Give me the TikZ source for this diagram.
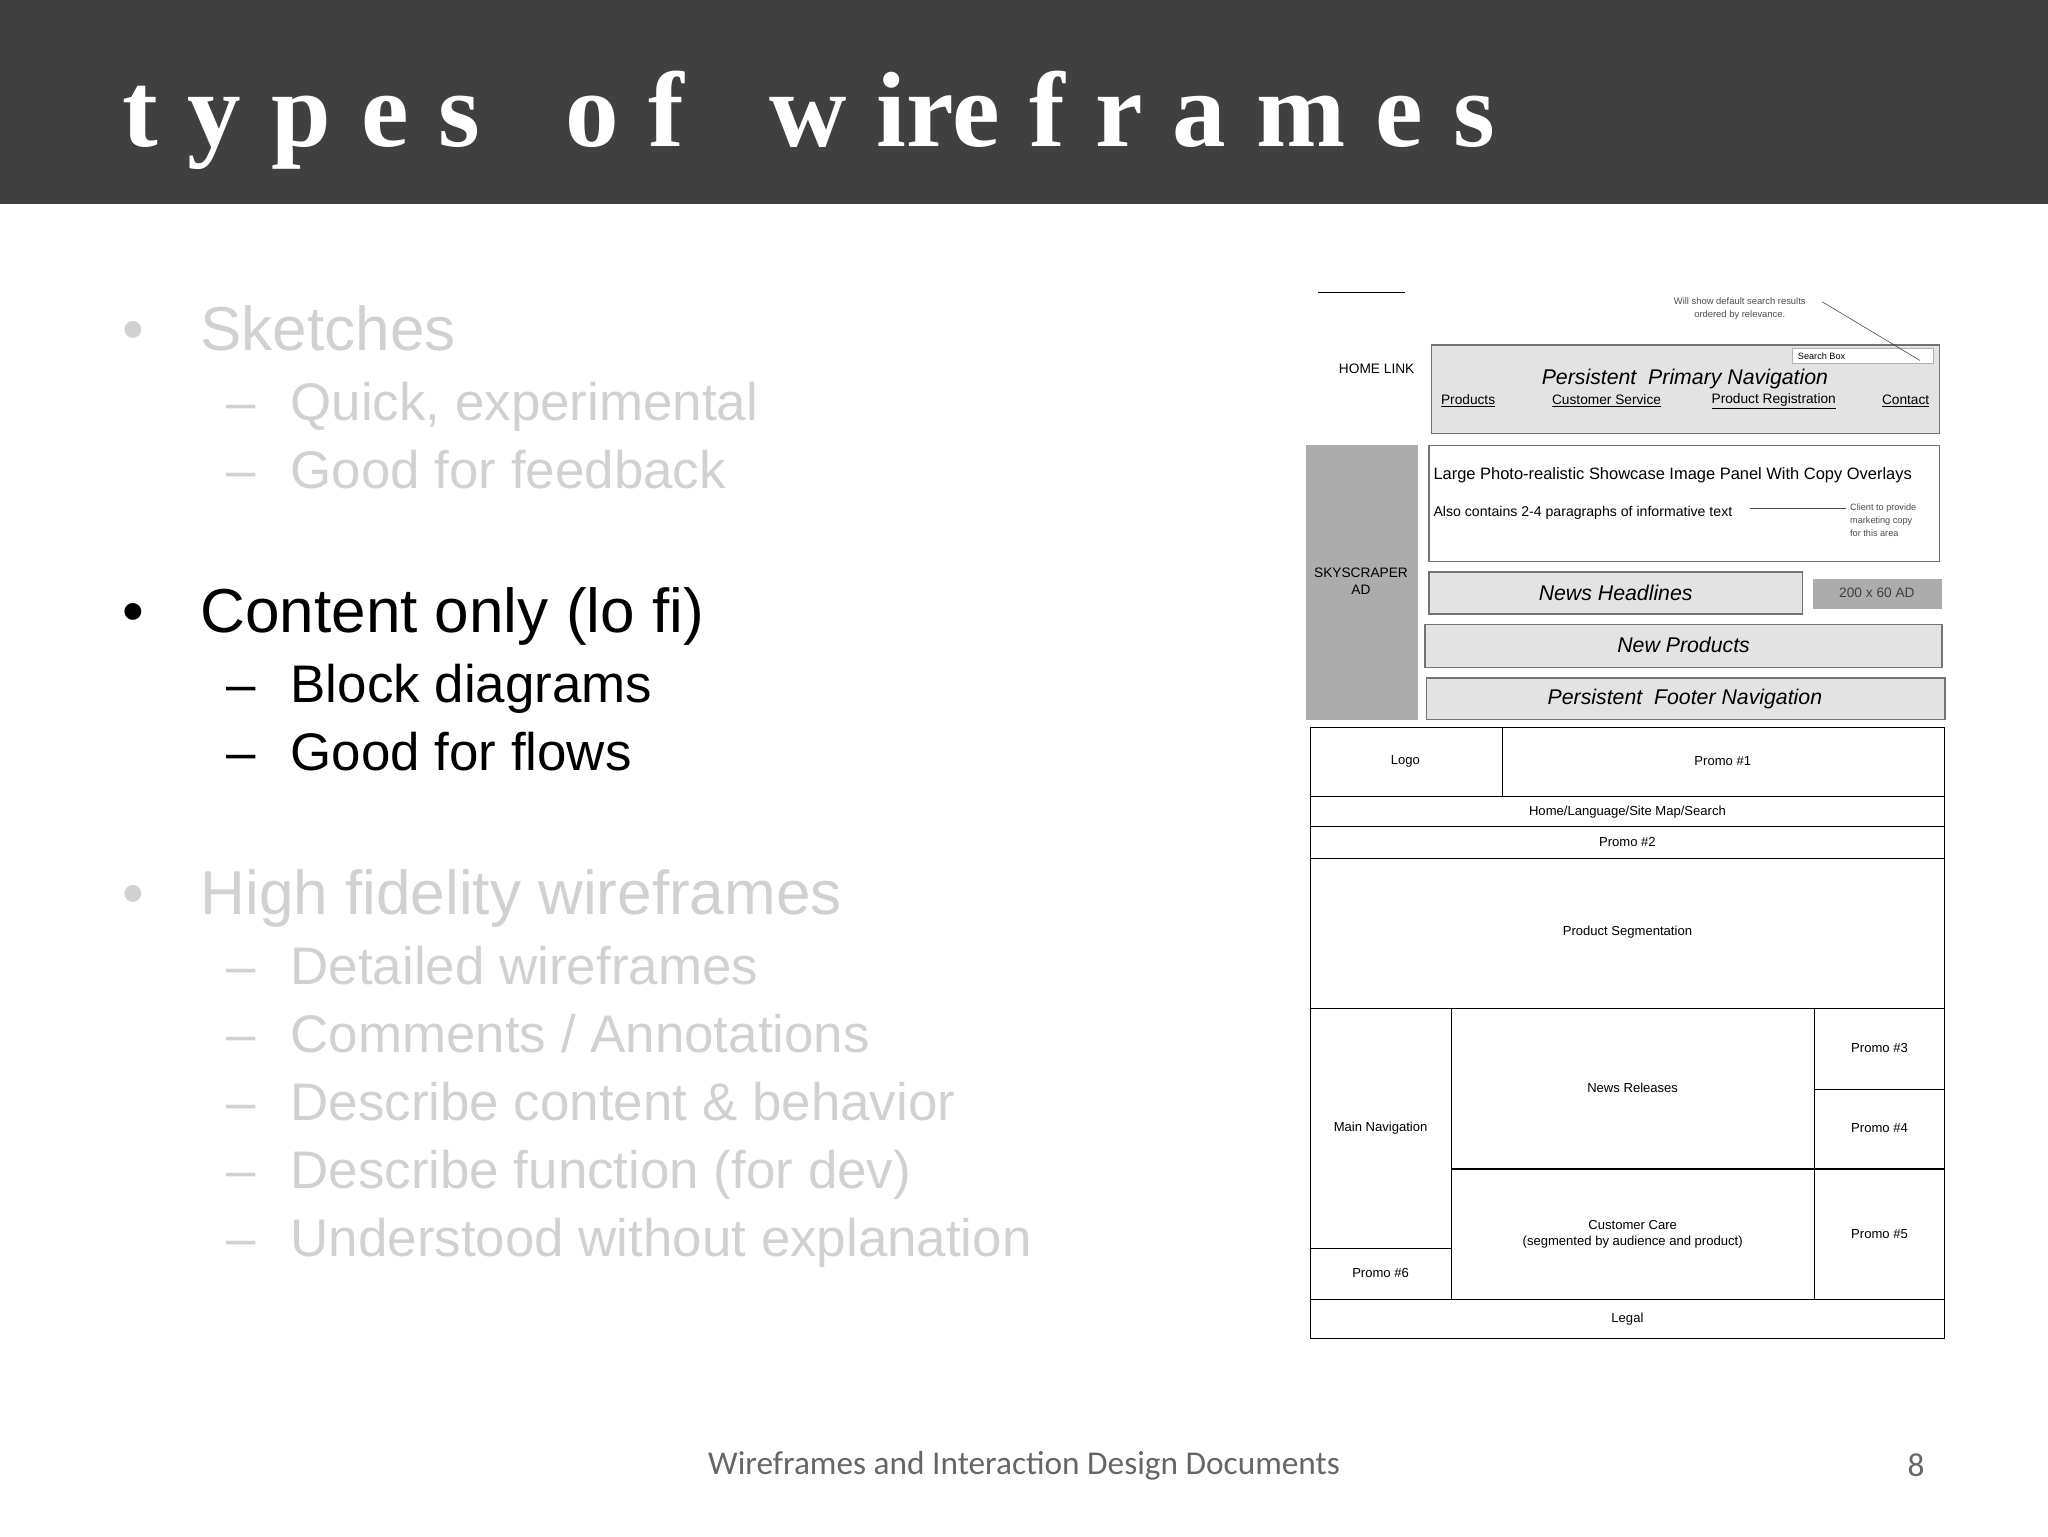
\documentclass[tikz,border=0pt]{standalone}
\usepackage{fontspec}
\setmainfont{Liberation Sans}
\newfontfamily\titlefont{Liberation Serif}
\newfontfamily\footfont{Carlito}
\newcommand\ttlg{\hspace{23pt}}
\newcommand\ttwg{\hspace{65pt}}
\begin{document}
\begin{tikzpicture}[x=1pt,y=-1pt,
  lbl/.style={font=\fontsize{10}{12}\selectfont,align=center},
  box/.style={draw=black,line width=0.8pt},
  gbox/.style={draw=gray!90!black,line width=1.2pt,fill=gray!22},
  faded/.style={text=black!18},
  bul/.style={anchor=base west,font=\fontsize{47.5}{50}\selectfont},
  sub/.style={anchor=base west,font=\fontsize{40.5}{44}\selectfont}]
\useasboundingbox (0,0) rectangle (1568,1176);
\fill[black!75] (0,0) rectangle (1568,156);
\node[anchor=base west,text=white,font=\titlefont\bfseries\fontsize{82}{90}\selectfont] (title) at (90,112) {t\ttlg y\ttlg p\ttlg e\ttlg s\ttwg o\ttlg f\ttwg w\ttlg ire\ttlg f\ttlg r\ttlg a\ttlg m\ttlg e\ttlg s};
% bullets
\foreach \y/\t/\s in {268/Sketches/faded, 700/High fidelity wireframes/faded}{
  \node[bul,\s] at (90,\y) {•}; \node[bul,\s] at (150,\y) {\t};}
\node[bul] (bc) at (90,484) {•}; \node[bul] (content) at (150,484) {Content only (lo fi)};
\foreach \y/\t in {322/{Quick, experimental},374/Good for feedback,754/Detailed wireframes,806/{Comments {/} Annotations},858/Describe content \& behavior,910/Describe function (for dev),962/Understood without explanation}{
  \node[sub,faded] at (170,\y) {–}; \node[sub,faded] at (219,\y) {\t};}
\foreach \y/\t in {538/Block diagrams,590/Good for flows}{
  \node[sub] at (170,\y) {–}; \node[sub] at (219,\y) {\t};}
% footer
\node[text=black!60,font=\footfont\fontsize{25.5}{28}\selectfont] (foot) at (784,1122) {Wireframes and Interaction Design Documents};
\node[text=black!60,font=\footfont\fontsize{25.5}{28}\selectfont] (pg) at (1467,1122) {8};
% wireframe 1
\draw[line width=1.2pt] (1009,224) -- (1076,224);
\node[lbl,font=\fontsize{7.2}{10}\selectfont,text=black!70] (ann) at (1332,236) {Will show default search results\\ordered by relevance.};
\fill[gray!22] (1096,264) rectangle (1485,332);
\draw[gbox] (1096,264) rectangle (1485,332);
\draw[draw=gray!60,fill=white] (1372,267) rectangle (1480,278);
\node[anchor=west,font=\fontsize{7}{8}\selectfont] (sb) at (1373,273) {Search Box};
\coordinate (sbc) at (1470,276);
\draw[black!80] (1395,231) -- (sbc);
\node[font=\itshape\fontsize{16.3}{18}\selectfont] (ppn) at (1290,290) {Persistent\ \ Primary Navigation};
\foreach \x/\t in {1124/Products,1230/Customer Service,1358/Product Registration,1459/Contact}
  \node[font=\fontsize{10.5}{12}\selectfont] at (\x,307) {\underline{\t}};
\node[font=\fontsize{10.5}{12}\selectfont] (home) at (1054,282) {HOME LINK};
\fill[gray!65] (1000,341) rectangle (1086,551);
\node[lbl,font=\fontsize{10.5}{13}\selectfont] (sky) at (1042,445) {SKYSCRAPER\\AD};
\draw[gbox,fill=white] (1094,341) rectangle (1485,430);
\node[anchor=west,font=\fontsize{12.6}{14}\selectfont] (lp) at (1094,364) {Large Photo-realistic Showcase Image Panel With Copy Overlays};
\node[anchor=west,font=\fontsize{10.8}{12}\selectfont] (also) at (1094,393) {Also contains 2-4 paragraphs of informative text};
\node[anchor=north west,align=left,font=\fontsize{7}{10}\selectfont,text=black!70] (client) at (1413,382) {Client to provide\\marketing copy\\for this area};
\coordinate (cl) at (1340,389);
\draw[black!70] (cl) -- (client.west |- cl);
\draw[gbox] (1094,438) rectangle (1380,470);
\node[font=\itshape\fontsize{16.3}{18}\selectfont] (nh) at (1237,454) {News Headlines};
\fill[gray!65] (1388,443) rectangle (1487,466);
\node[font=\fontsize{10.5}{12}\selectfont,text=black!75] (ad) at (1437,454) {200 x 60 AD};
\draw[gbox] (1091,478) rectangle (1487,511);
\node[font=\itshape\fontsize{16.3}{18}\selectfont] (np) at (1289,494) {New Products};
\draw[gbox] (1092,519) rectangle (1489,551);
\node[font=\itshape\fontsize{16.3}{18}\selectfont] (pfn) at (1290,535) {Persistent\ \ Footer Navigation};
% wireframe 2
\draw[box] (1003,557) rectangle (1489,1025);
\draw[box] (1150,557) -- (1150,610);
\foreach \y in {610,633,657,772,995} \draw[box] (1003,\y) -- (1489,\y);
\draw[box] (1111,772) -- (1111,995);
\draw[box] (1389,772) -- (1389,995);
\draw[box] (1003,956) -- (1111,956);
\draw[box] (1111,895) -- (1489,895);
\draw[box] (1389,834) -- (1489,834);
\node[lbl] at (1076,583) {Logo};
\node[lbl] at (1319,583) {Promo \#1};
\node[lbl] at (1246,622) {Home/Language/Site Map/Search};
\node[lbl] at (1246,645) {Promo \#2};
\node[lbl] at (1246,714) {Product Segmentation};
\node[lbl] at (1057,864) {Main Navigation};
\node[lbl] at (1057,975) {Promo \#6};
\node[lbl] at (1250,833) {News Releases};
\node[lbl] at (1250,945) {Customer Care\\(segmented by audience and product)};
\node[lbl] at (1439,802) {Promo \#3};
\node[lbl] at (1439,864) {Promo \#4};
\node[lbl] at (1439,945) {Promo \#5};
\node[lbl] at (1246,1010) {Legal};
\end{tikzpicture}
\end{document}
